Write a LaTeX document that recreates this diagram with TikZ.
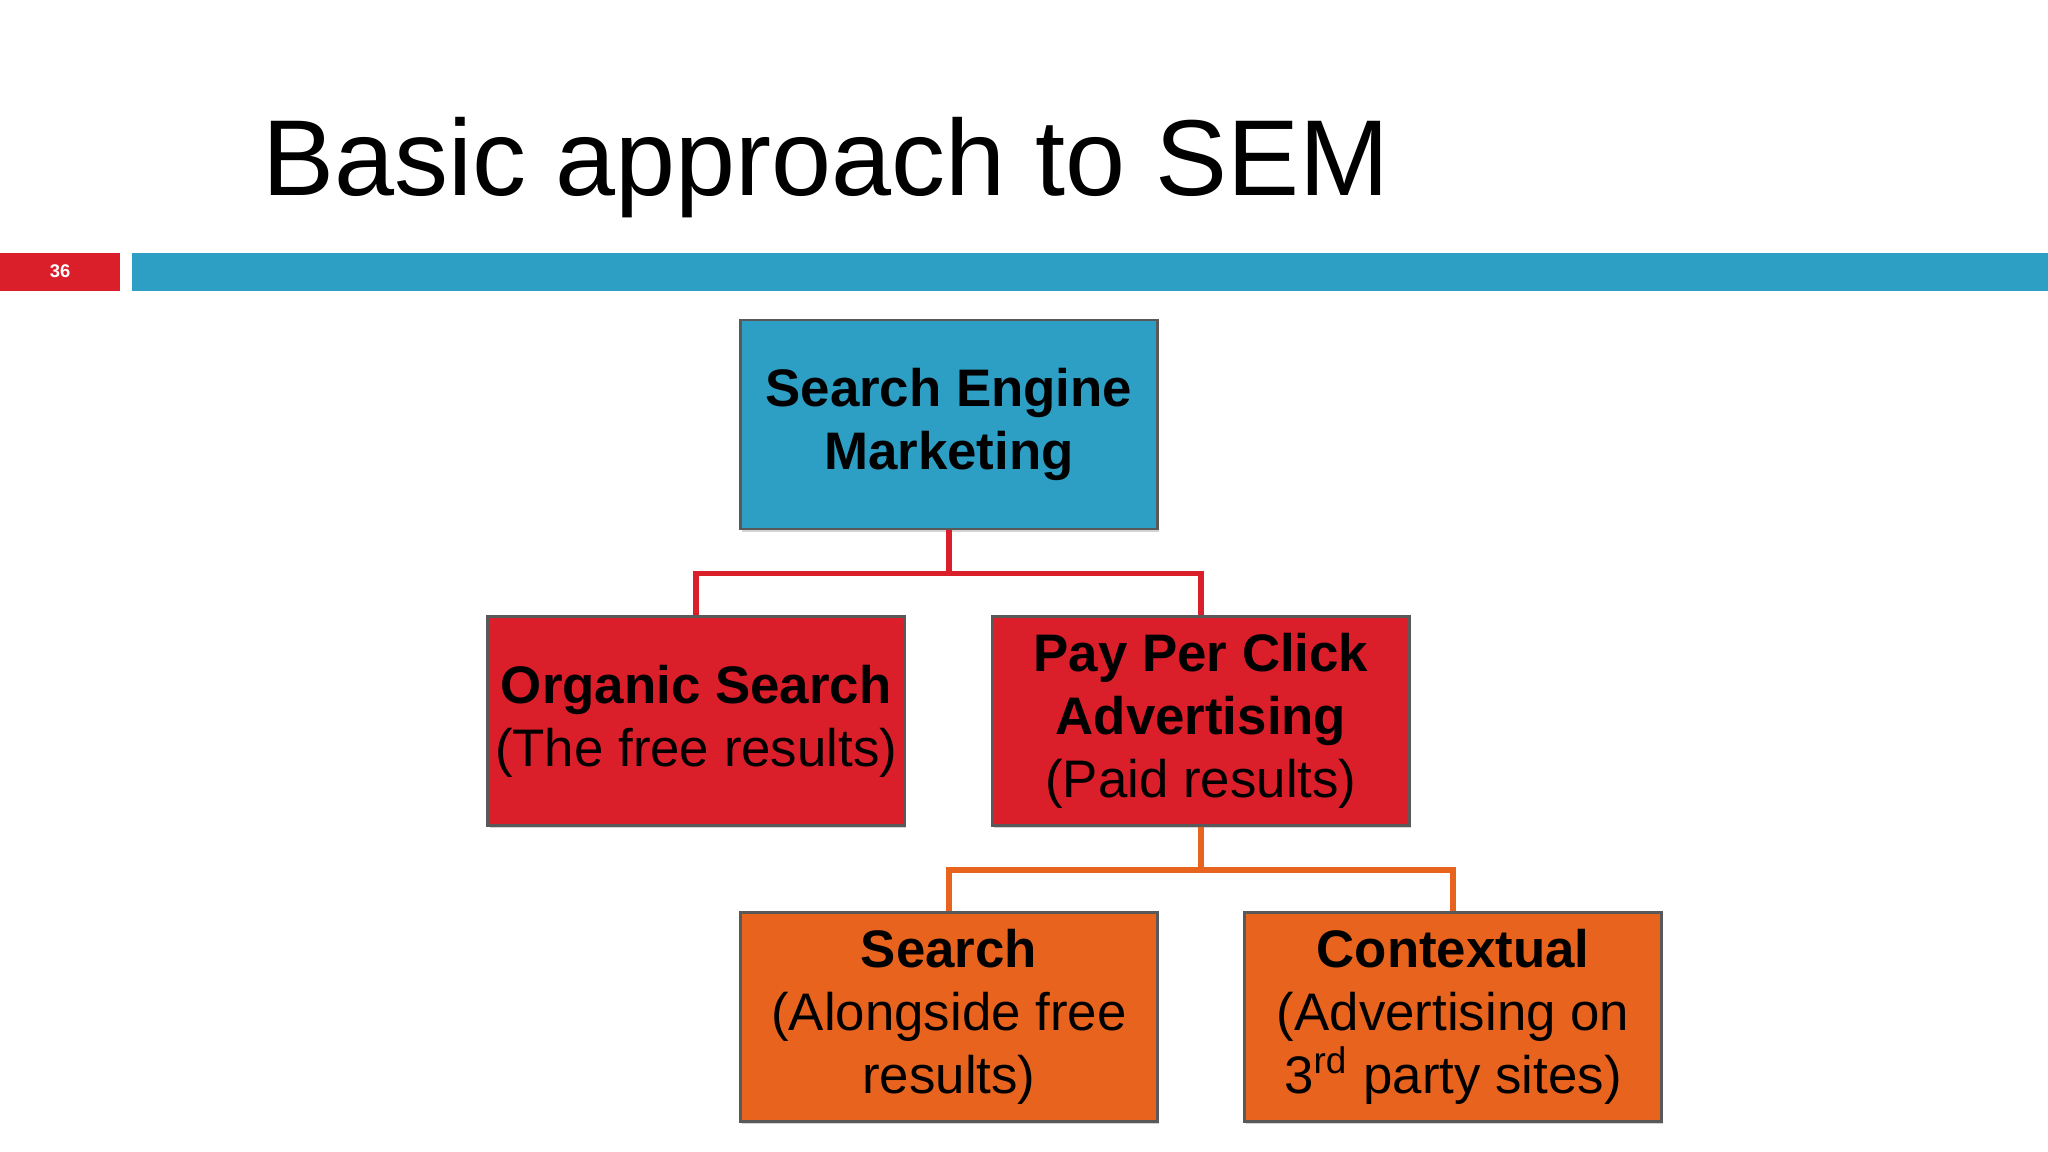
\documentclass[tikz,border=0pt]{standalone}
\usepackage{fontspec}
\setmainfont{Liberation Sans}
\usetikzlibrary{shadows}
\definecolor{sblue}{HTML}{2E9FC4}
\definecolor{sred}{HTML}{DA1F2B}
\definecolor{sorange}{HTML}{E8631E}
\begin{document}
\begin{tikzpicture}[x=0.01cm,y=-0.01cm,
  box/.style={draw=gray!70!black,line width=0.6pt,minimum width=3.19cm,minimum height=1.6cm,align=center,
    font=\fontsize{11.5}{13.7}\selectfont,drop shadow={shadow xshift=0.4pt,shadow yshift=-0.6pt,opacity=0.35},inner sep=0pt},
  conn/.style={line width=1.2pt}]
\useasboundingbox (0,0) rectangle (1568,882);
\node[anchor=base west,font=\fontsize{23.5}{28}\selectfont,inner sep=0pt] (title) at (200,150) {Basic approach to SEM};
\fill[sred] (0,194) rectangle (92,223);
\node[font=\fontsize{4}{5}\selectfont\bfseries,text=white] (num) at (46,208) {36};
\fill[sblue] (101,194) rectangle (1568,223);
\node[box,fill=sblue] (sem) at (726.5,325) {\textbf{Search Engine}\\\textbf{Marketing}};
\node[box,fill=sred] (org) at (533,552) {\textbf{Organic Search}\\(The free results)};
\node[box,fill=sred] (ppc) at (919.5,552) {\textbf{Pay Per Click}\\\textbf{Advertising}\\(Paid results)};
\node[box,fill=sorange] (srch) at (726.5,778.5) {\textbf{Search}\\(Alongside free\\results)};
\node[box,fill=sorange] (ctx) at (1112.5,778.5) {\textbf{Contextual}\\(Advertising on\\3\textsuperscript{rd} party sites)};
\draw[conn,sred] (sem.south) -- ++(0,33) -| (org.north);
\draw[conn,sred] (sem.south) ++(0,33) -| (ppc.north);
\draw[conn,sorange] (ppc.south) -- ++(0,33) -| (srch.north);
\draw[conn,sorange] (ppc.south) ++(0,33) -| (ctx.north);
\end{tikzpicture}
\end{document}
